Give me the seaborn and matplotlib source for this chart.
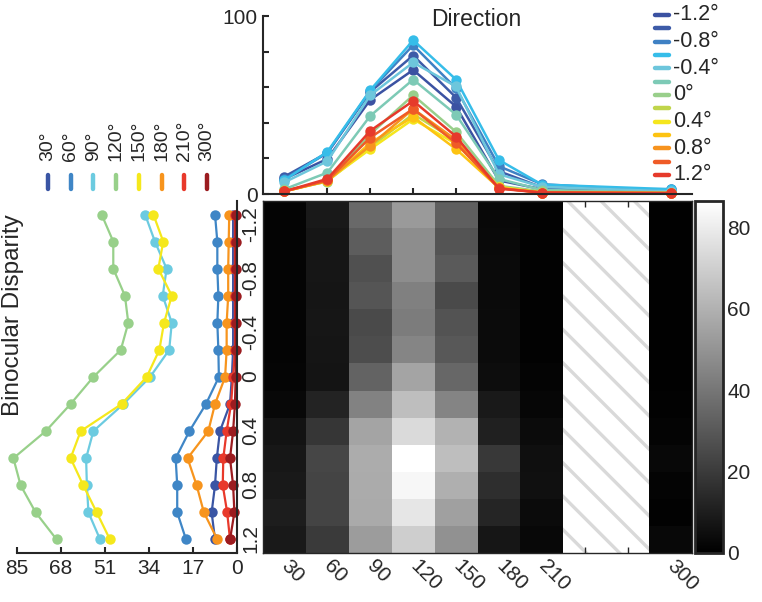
import numpy as np
import pandas as pd
import matplotlib
matplotlib.use("Agg")
import matplotlib.pyplot as plt
import seaborn as sns
from matplotlib.lines import Line2D

# Data: response per direction, rows run over disparity -1.2 .. 1.2
disparities = [-1.2, -1.0, -0.8, -0.6, -0.4, -0.2, 0.0, 0.2, 0.4, 0.6, 0.8, 1.0, 1.2]
resp_30 = [1.5, 1.5, 1.5, 1.5, 1.5, 1.5, 2.0, 2.7, 6.6, 7.8, 8.5, 9.8, 8.5]
resp_60 = [8.5, 7.6, 7.6, 7.2, 7.6, 7.2, 7.0, 12.0, 18.4, 23.7, 23.1, 23.1, 19.7]
resp_90 = [35.5, 31.7, 27.2, 28.7, 25.2, 26.2, 33.6, 43.9, 55.5, 58.3, 58.0, 57.4, 52.9]
resp_120 = [52.3, 47.8, 47.8, 43.3, 42.0, 44.9, 55.5, 64.3, 73.9, 86.4, 83.6, 77.8, 69.7]
resp_150 = [32.3, 28.5, 30.4, 25.2, 28.2, 30.0, 34.9, 44.6, 60.4, 64.3, 59.4, 54.2, 49.1]
resp_180 = [3.0, 3.2, 3.4, 3.4, 4.0, 4.0, 4.6, 8.5, 11.1, 19.1, 15.6, 12.8, 7.6]
resp_210 = [0.8, 0.8, 0.8, 0.8, 0.8, 0.8, 1.5, 2.3, 4.0, 5.3, 5.5, 3.8, 2.7]
resp_300 = [0.5, 0.5, 0.5, 0.5, 0.5, 0.5, 0.5, 0.8, 1.5, 2.7, 1.5, 1.0, 2.7]

directions = [30, 60, 90, 120, 150, 180, 210, 300]
all_directions = [30, 60, 90, 120, 150, 180, 210, 240, 270, 300]  # 240 / 270 not tested
direction_ticklabels = ["30", "60", "90", "120", "150", "180", "210", "", "", "300"]
disparity_ticklabels = ["-1.2", "-0.8", "-0.4", "0", "0.4", "0.8", "1.2"]
disparity_tickrows = [0, 2, 4, 6, 8, 10, 12]
curve_labels = ["-1.2°", "", "-0.8°", "", "-0.4°", "", "0°", "", "0.4°", "", "0.8°", "", "1.2°"]
direction_labels = ["30°", "60°", "90°", "120°", "150°", "180°", "210°", "300°"]
left_xticks = [85, 68, 51, 34, 17, 0]

curve_colors = ["#3b52a2", "#3d5ba8", "#3f81c4", "#36bde9", "#6dc6dc", "#7dcab6",
                "#99cf8b", "#c0d54b", "#f5e61d", "#fdc312", "#f7931e", "#ef5b27", "#e63a2b"]
direction_colors = ["#3a55a4", "#3f86c6", "#6ccbe0", "#98d08a", "#f5e81c", "#f7941d",
                    "#e8392b", "#9b1c20"]

responses = [resp_30, resp_60, resp_90, resp_120, resp_150, resp_180, resp_210, resp_300]
resp = pd.DataFrame(dict(zip(directions, responses)), index=disparities)
heat = resp.reindex(columns=all_directions)

long = resp.reset_index(names="disparity").melt(id_vars="disparity", var_name="direction",
                                                 value_name="response")
long["row"] = long["disparity"].map({d: i + 0.5 for i, d in enumerate(disparities)})
long["col"] = long["direction"].map({d: i + 0.5 for i, d in enumerate(all_directions)})
# in the original the colour order of the top curves runs opposite to the heatmap rows
long["curve"] = long["disparity"].map({d: len(disparities) - 1 - i for i, d in enumerate(disparities)})

plt.rcParams["hatch.color"] = "#d9d9d9"
plt.rcParams["hatch.linewidth"] = 2.4
sns.set_style("white")
plt.rcParams["font.family"] = ["Liberation Sans", "DejaVu Sans"]
plt.rcParams["font.size"] = 15

W, H = 762, 602
fig = plt.figure(figsize=(W / 100, H / 100), dpi=100)


def box(l, t, r, b):
    return [l / W, 1 - b / H, (r - l) / W, (b - t) / H]


ax_hm = fig.add_axes(box(263, 201, 692, 553))
ax_cb = fig.add_axes(box(695, 201, 723, 553))
ax_top = fig.add_axes(box(263, 16, 692, 194))
ax_left = fig.add_axes(box(17, 201, 237, 553))

# heatmap
sns.heatmap(heat, ax=ax_hm, cmap="gray", vmin=0, cbar_ax=ax_cb,
            xticklabels=direction_ticklabels, yticklabels=False)
ax_hm.patch.set_edgecolor("#d9d9d9")
ax_hm.patch.set_hatch("\\")
ax_hm.set_xlabel("")
ax_hm.set_ylabel("")
# labels sit on the number part, so a leading minus hangs a little below the row centre
ax_hm.set_yticks([r + (0.85 if lab.startswith("-") else 0.47)
                  for r, lab in zip(disparity_tickrows, disparity_ticklabels)],
                 disparity_ticklabels)
ax_hm.tick_params(axis="x", which="both", direction="in", top=True, bottom=True,
                  length=4, width=1, pad=7, labelsize=15)
ax_hm.tick_params(axis="y", length=0, pad=2, labelsize=15)
for s in ax_hm.spines.values():
    s.set_visible(True)
    s.set_linewidth(1)

cb = ax_hm.collections[0].colorbar
cb.outline.set_linewidth(2)
cb.set_ticks([0, 20, 40, 60, 80])
cb.set_ticks([10, 30, 50, 70], minor=True)
ax_cb.tick_params(which="both", direction="in", left=True, right=True, length=3, width=1.2,
                  pad=3, labelsize=15)

# top: response vs direction
sns.lineplot(data=long, x="col", y="response", hue="curve", hue_order=list(range(13)),
             palette=dict(enumerate(curve_colors)), marker="o", markersize=7.5,
             markeredgewidth=0, linewidth=1.8, legend=False, errorbar=None,
             ax=ax_top, clip_on=False)
ax_top.set(xlim=(0, 10), ylim=(0, 100), xlabel="", ylabel="")
ax_top.set_xticks(np.arange(10) + 0.5)
ax_top.set_xticklabels([])
ax_top.set_yticks([0, 20, 40, 60, 80, 100], ["0", "", "", "", "", "100"])
sns.despine(ax=ax_top)
for s in ax_top.spines.values():
    s.set_linewidth(1.5)
ax_top.tick_params(direction="in", length=4, width=1.5, pad=4, left=True, bottom=True,
                   labelsize=15)

# left: response vs disparity
sns.lineplot(data=long, x="response", y="row", hue="direction", hue_order=directions,
             palette=dict(zip(directions, direction_colors)), orient="y", marker="o",
             markersize=7.5, markeredgewidth=0, linewidth=1.6, legend=False,
             errorbar=None, ax=ax_left, clip_on=False)
ax_left.set(xlim=(85, 0), ylim=(13, 0), xlabel="", ylabel="")
ax_left.set_xticks(left_xticks)
ax_left.set_yticks([])
ax_left.spines["top"].set_visible(False)
ax_left.spines["left"].set_visible(False)
for s in ax_left.spines.values():
    s.set_linewidth(1.5)
ax_left.tick_params(axis="x", direction="in", length=4, width=1.5, pad=4, bottom=True,
                    labelsize=15)

# tick label orientation on the heatmap
plt.setp(ax_hm.get_xticklabels(), rotation=-45, ha="left", va="center", rotation_mode="anchor")
plt.setp(ax_hm.get_yticklabels(), rotation=90, va="center")

# legends drawn by hand
for k, (lab, c) in enumerate(zip(curve_labels, curve_colors)):
    y = 1 - (15 + 13.33 * k) / H
    fig.add_artist(Line2D([655 / W, 669 / W], [y, y], color=c, lw=3.2, transform=fig.transFigure))
    if lab:
        fig.text(673 / W, y, lab, ha="left", va="center", fontsize=15.5)

for i, (lab, c) in enumerate(zip(direction_labels, direction_colors)):
    x = (48 + 22.7 * i) / W
    fig.add_artist(Line2D([x, x], [1 - 175 / H, 1 - 189 / H], color=c, lw=3.2,
                          transform=fig.transFigure))
    fig.text(x, 1 - 161 / H, lab, rotation=90, ha="center", va="bottom", fontsize=14)

fig.text(476 / W, 1 - 19 / H, "Direction", ha="center", va="center", fontsize=16.5)
fig.text(13 / W, 1 - 315 / H, "Binocular Disparity", rotation=90, ha="center", va="center",
         fontsize=17.5)

fig.savefig("out.png", dpi=100)
